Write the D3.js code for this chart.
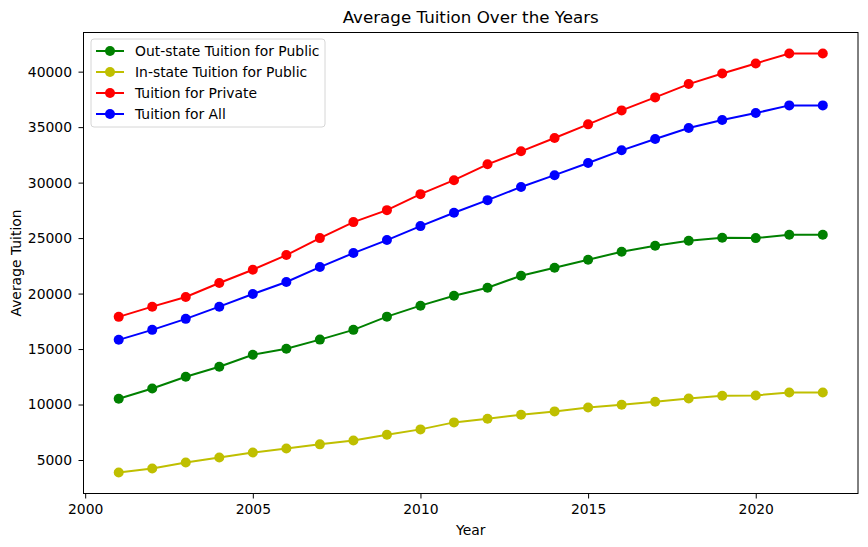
<!DOCTYPE html>
<html>
<head>
<meta charset="utf-8">
<script src="https://cdn.jsdelivr.net/npm/d3@7/dist/d3.min.js"></script>
<style>
  body { margin: 0; background: #fff; }
  svg { display: block; font-family: "DejaVu Sans", sans-serif; }
</style>
</head>
<body>
<svg id="chart" width="868" height="547"></svg>
<script>
const years = d3.range(2001, 2023);
const outStatePublic = [10520, 11450, 12500, 13400, 14480, 15020, 15850, 16730, 17920, 18910, 19810, 20530, 21610, 22330, 23050, 23770, 24310, 24760, 25030, 25000, 25300, 25300];
const inStatePublic = [3870, 4230, 4770, 5220, 5670, 6030, 6410, 6750, 7280, 7760, 8390, 8720, 9080, 9380, 9740, 9980, 10250, 10550, 10790, 10820, 11090, 11090];
const privateTuition = [17900, 18820, 19690, 20950, 22150, 23470, 25000, 26440, 27520, 28960, 30220, 31650, 32820, 34020, 35250, 36510, 37680, 38880, 39840, 40740, 41640, 41640];
const allTuition = [15830, 16730, 17720, 18820, 19960, 21040, 22390, 23650, 24820, 26080, 27280, 28420, 29610, 30670, 31770, 32910, 33930, 34920, 35640, 36270, 36960, 36960];
const seriesNames = ["Out-state Tuition for Public", "In-state Tuition for Public", "Tuition for Private", "Tuition for All"];
const seriesColors = ["#008000", "#bfbf00", "#ff0000", "#0000ff"];
const xTicks = [2000, 2005, 2010, 2015, 2020];
const yTicks = [5000, 10000, 15000, 20000, 25000, 30000, 35000, 40000];

const seriesValues = [outStatePublic, inStatePublic, privateTuition, allTuition];
const series = seriesNames.map((name, i) => ({
  name, color: seriesColors[i],
  points: years.map((y, j) => ({ x: y, y: seriesValues[i][j] }))
}));

const margin = { left: 83.5, right: 10, top: 32.5, bottom: 53.5 };
const W = 868, H = 547;
const svg = d3.select("#chart");

const xMin = d3.min(years), xMax = d3.max(years);
const xPad = (xMax - xMin) * 0.05;
const allVals = seriesValues.flat();
const yMin = d3.min(allVals), yMax = d3.max(allVals);
const yPad = (yMax - yMin) * 0.05;

const x = d3.scaleLinear().domain([xMin - xPad, xMax + xPad]).range([margin.left, W - margin.right]);
const y = d3.scaleLinear().domain([yMin - yPad, yMax + yPad]).range([H - margin.bottom, margin.top]);

const FS = 13.9;

// axes
const xAxis = svg.append("g")
  .attr("transform", `translate(0,${H - margin.bottom})`)
  .call(d3.axisBottom(x).tickValues(xTicks).tickFormat(d3.format("d")).tickSize(5).tickPadding(5.5));
const yAxis = svg.append("g")
  .attr("transform", `translate(${margin.left},0)`)
  .call(d3.axisLeft(y).tickValues(yTicks).tickFormat(d3.format("d")).tickSize(5).tickPadding(6.5));
[xAxis, yAxis].forEach(g => {
  g.select(".domain").remove();
  g.selectAll("text").attr("font-size", FS).attr("fill", "#000").attr("font-family", "DejaVu Sans, sans-serif");
  g.selectAll("line").attr("stroke", "#000").attr("stroke-width", 1);
});

// lines
const line = d3.line().x(d => x(d.x)).y(d => y(d.y));
series.forEach(s => {
  svg.append("path").datum(s.points)
    .attr("d", line).attr("fill", "none")
    .attr("stroke", s.color).attr("stroke-width", 2);
  svg.append("g").selectAll("circle").data(s.points).join("circle")
    .attr("cx", d => x(d.x)).attr("cy", d => y(d.y)).attr("r", 5)
    .attr("fill", s.color);
});

// frame
svg.append("rect")
  .attr("x", margin.left).attr("y", margin.top)
  .attr("width", W - margin.right - margin.left)
  .attr("height", H - margin.bottom - margin.top)
  .attr("fill", "none").attr("stroke", "#000").attr("stroke-width", 1);

// title and labels
svg.append("text").attr("x", (margin.left + W - margin.right) / 2).attr("y", 22.5)
  .attr("text-anchor", "middle").attr("font-size", 16.7).text("Average Tuition Over the Years");
svg.append("text").attr("x", (margin.left + W - margin.right) / 2).attr("y", 535)
  .attr("text-anchor", "middle").attr("font-size", FS).text("Year");
svg.append("text")
  .attr("transform", `translate(20.5,${(margin.top + H - margin.bottom) / 2}) rotate(-90)`)
  .attr("text-anchor", "middle").attr("font-size", FS).text("Average Tuition");

// legend
const lg = svg.append("g");
lg.append("rect").attr("x", 91).attr("y", 39).attr("width", 234).attr("height", 88)
  .attr("rx", 3).attr("fill", "#fff").attr("fill-opacity", 0.8)
  .attr("stroke", "#d6d6d6").attr("stroke-width", 1);
series.forEach((s, i) => {
  const cy = 51 + i * 21;
  lg.append("line").attr("x1", 96).attr("x2", 124).attr("y1", cy).attr("y2", cy)
    .attr("stroke", s.color).attr("stroke-width", 2);
  lg.append("circle").attr("cx", 110).attr("cy", cy).attr("r", 5).attr("fill", s.color);
  lg.append("text").attr("x", 135).attr("y", cy + 5).attr("font-size", FS).text(s.name);
});
</script>
</body>
</html>
